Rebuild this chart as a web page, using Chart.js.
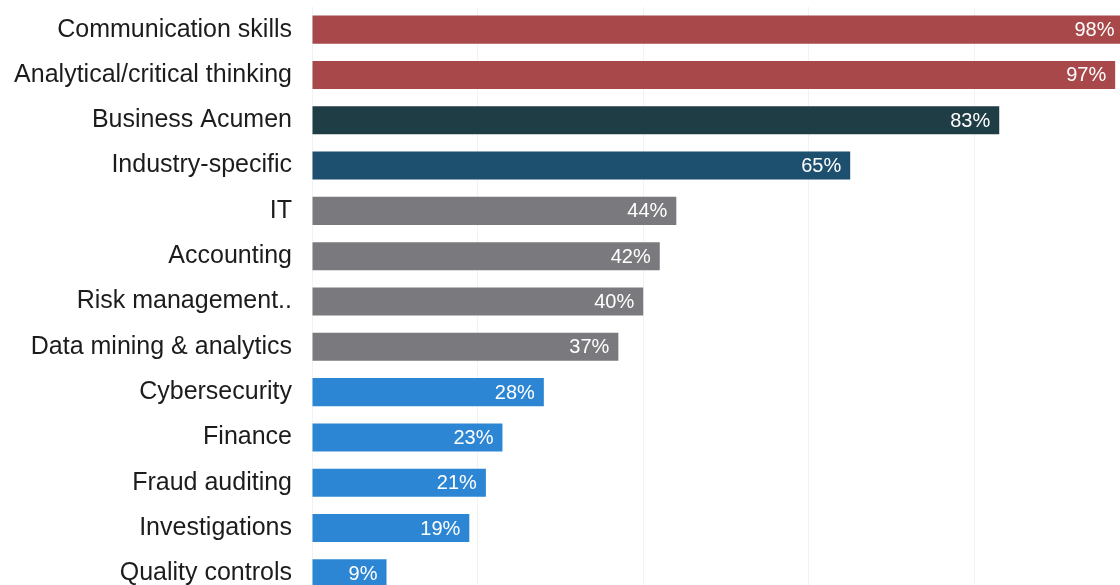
<!DOCTYPE html>
<html>
<head>
<meta charset="utf-8">
<script src="https://cdn.jsdelivr.net/npm/chart.js@4/dist/chart.umd.min.js"></script>
<style>
    html, body { margin: 0; padding: 0; background: #fff; overflow: hidden; }
    #wrap { position: absolute; left: 0; top: 0; width: 1150px; height: 600px; }
</style>
</head>
<body>
<div id="wrap"><canvas id="chart"></canvas></div>
<script>
// skills and share of respondents (%)
const skills = [
    "Communication skills", "Analytical/critical thinking", "Business Acumen",
    "Industry-specific", "IT", "Accounting", "Risk management..",
    "Data mining & analytics", "Cybersecurity", "Finance", "Fraud auditing",
    "Investigations", "Quality controls"
];
const shares = [98, 97, 83, 65, 44, 42, 40, 37, 28, 23, 21, 19, 9];
const barColors = [
    "#a8484a", "#a8484a", "#1f3d45", "#1d4f6e",
    "#7a7a7e", "#7a7a7e", "#7a7a7e", "#7a7a7e",
    "#2d86d3", "#2d86d3", "#2d86d3", "#2d86d3", "#2d86d3"
];
const gridTicks = [0, 20, 40, 60, 80, 100];

//draw the % labels inside bar ends
const valueLabels = {
    id: "valueLabels",
    afterDatasetsDraw(chart) {
        const ctx = chart.ctx;
        const meta = chart.getDatasetMeta(0);
        ctx.save();
        ctx.font = "20px 'Liberation Sans', Arial, sans-serif";
        ctx.fillStyle = "#ffffff";
        ctx.textAlign = "right";
        ctx.textBaseline = "middle";
        meta.data.forEach((bar, i) => {
            ctx.fillText(shares[i] + "%", bar.x - 9, bar.y + 1);
        });
        ctx.restore();
    }
};

new Chart(document.getElementById("chart"), {
    type: "bar",
    data: {
        labels: skills,
        datasets: [{
            data: shares,
            backgroundColor: barColors,
            borderWidth: 0,
            categoryPercentage: 0.62,
            barPercentage: 1
        }]
    },
    options: {
        indexAxis: "y",
        responsive: true,
        maintainAspectRatio: false,
        animation: false,
        layout: { padding: { top: 7, bottom: 4, left: 0, right: 10 } },
        plugins: {
            legend: { display: false },
            tooltip: { enabled: false }
        },
        scales: {
            x: {
                min: 0,
                max: 100,
                afterBuildTicks: (scale) => {
                    scale.ticks = gridTicks.map(v => ({ value: v }));
                },
                afterFit: (scale) => { scale.height = 0; },
                ticks: { display: false },
                grid: { color: "#f1f2f4", drawTicks: false },
                border: { display: false }
            },
            y: {
                //fixed label column, no extra top/bottom padding from tick labels
                afterFit: (scale) => {
                    scale.width = 312;
                    scale.paddingTop = 0;
                    scale.paddingBottom = 0;
                },
                grid: { display: false, drawTicks: false },
                border: { display: false },
                ticks: {
                    padding: 20,
                    color: "#1c1c1c",
                    font: { family: "'Liberation Sans', Arial, sans-serif", size: 25 }
                }
            }
        }
    },
    plugins: [valueLabels]
});
</script>
</body>
</html>
